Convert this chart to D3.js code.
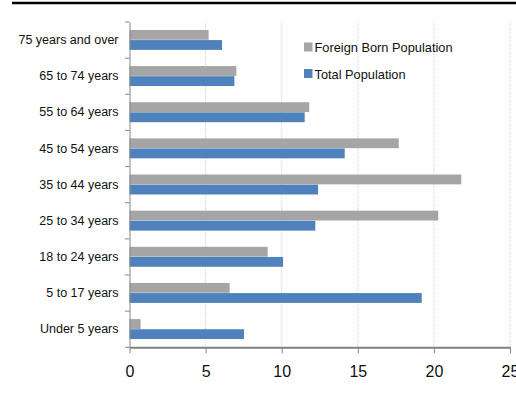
<!DOCTYPE html>
<html>
<head>
<meta charset="utf-8">
<script src="https://cdn.jsdelivr.net/npm/d3@7/dist/d3.min.js"></script>
<style>
  html, body { margin: 0; padding: 0; background: #fff; }
  svg { display: block; font-family: "Liberation Sans", Arial, sans-serif; }
</style>
</head>
<body>
<svg id="chart" width="516" height="395"></svg>
<script>
// Age groups, listed bottom to top as they appear on the axis
const categories = ["Under 5 years", "5 to 17 years", "18 to 24 years", "25 to 34 years",
  "35 to 44 years", "45 to 54 years", "55 to 64 years", "65 to 74 years", "75 years and over"];
// Percent of each population in the age group
const foreignBorn = [0.73, 6.58, 9.08, 20.29, 21.8, 17.69, 11.81, 7.02, 5.2];
const totalPop = [7.52, 19.2, 10.09, 12.21, 12.39, 14.14, 11.51, 6.89, 6.08];
const seriesNames = ["Foreign Born Population", "Total Population"];
const seriesColors = ["#A5A5A5", "#4F81BD"];
const xTicks = [0, 5, 10, 15, 20, 25];

const svg = d3.select("#chart");
const plotLeft = 129.5, plotRight = 510, plotTop = 22, plotBottom = 347.3;

const x = d3.scaleLinear().domain([0, 25]).range([plotLeft, plotRight]);
// Top category at the top of the plot
const y = d3.scaleBand().domain(categories.slice().reverse()).range([plotTop, plotBottom]).padding(0);
const barH = y.bandwidth() * 0.272;

// Rule across the top of the figure
svg.append("line")
  .attr("x1", 12).attr("x2", 516).attr("y1", 3).attr("y2", 3)
  .attr("stroke", "#000").attr("stroke-width", 2.5);

// Dotted vertical gridlines
svg.append("g").selectAll("line")
  .data(xTicks.filter(d => d > 0))
  .join("line")
  .attr("x1", d => x(d)).attr("x2", d => x(d))
  .attr("y1", plotTop).attr("y2", plotBottom)
  .attr("stroke", "#d0d0d0").attr("stroke-width", 1)
  .attr("stroke-dasharray", "1,1");

// Bars
const rows = categories.map((c, i) => ({ c, fb: foreignBorn[i], tp: totalPop[i] }));
const g = svg.append("g");
g.selectAll("rect.fb").data(rows).join("rect")
  .attr("class", "fb")
  .attr("x", x(0)).attr("width", d => x(d.fb) - x(0))
  .attr("y", d => y(d.c) + y.bandwidth() / 2 - barH - 0.3)
  .attr("height", barH)
  .attr("fill", seriesColors[0]);
g.selectAll("rect.tp").data(rows).join("rect")
  .attr("class", "tp")
  .attr("x", x(0)).attr("width", d => x(d.tp) - x(0))
  .attr("y", d => y(d.c) + y.bandwidth() / 2)
  .attr("height", barH)
  .attr("fill", seriesColors[1]);

// Y axis with category labels
const yAxis = svg.append("g")
  .attr("transform", `translate(${plotLeft},0)`)
  .call(d3.axisLeft(y).tickSize(0).tickPadding(11));
yAxis.select(".domain").attr("stroke", "#868686");
yAxis.selectAll("text").attr("font-size", "12.5px").attr("fill", "#111")
  .attr("font-family", "'Liberation Sans', Arial, sans-serif");
// Tick marks on the band boundaries
svg.append("g").selectAll("line")
  .data(d3.range(categories.length + 1))
  .join("line")
  .attr("x1", plotLeft - 4.5).attr("x2", plotLeft)
  .attr("y1", i => plotTop + i * y.step()).attr("y2", i => plotTop + i * y.step())
  .attr("stroke", "#868686");

// X axis
const xAxis = svg.append("g")
  .attr("transform", `translate(0,${plotBottom})`)
  .call(d3.axisBottom(x).tickValues(xTicks).tickSize(6).tickPadding(12.5).tickSizeOuter(0));
xAxis.select(".domain").attr("stroke", "#808080").attr("stroke-width", 2);
xAxis.selectAll(".tick line").attr("stroke", "#808080");
xAxis.selectAll("text").attr("font-size", "16px").attr("fill", "#111")
  .attr("font-family", "'Liberation Sans', Arial, sans-serif");

// Legend
const legend = svg.append("g").selectAll("g")
  .data(seriesNames)
  .join("g")
  .attr("transform", (d, i) => `translate(304,${42.5 + i * 26.5})`);
legend.append("rect").attr("width", 8.5).attr("height", 9)
  .attr("fill", (d, i) => seriesColors[i]);
legend.append("text").attr("x", 10.5).attr("y", 9.5)
  .attr("font-size", "12.8px").attr("fill", "#111")
  .text(d => d);
</script>
</body>
</html>
